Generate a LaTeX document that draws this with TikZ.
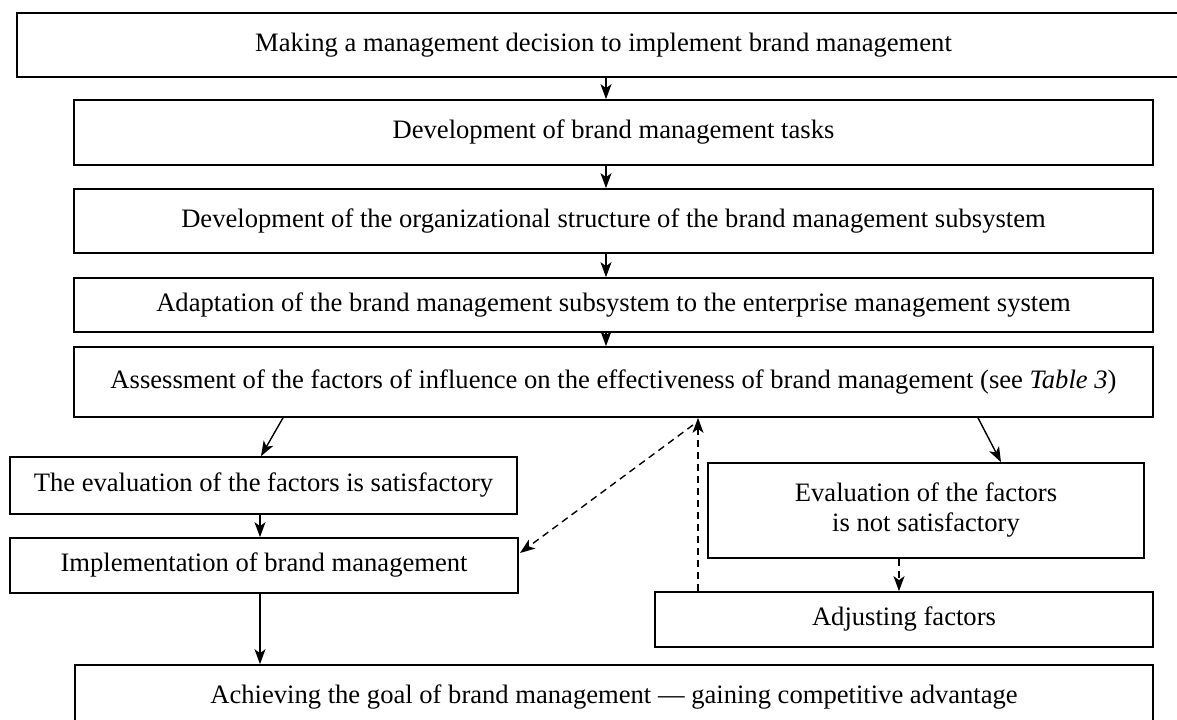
\documentclass[tikz,border=0pt]{standalone}
\usepackage{fontspec}
\setmainfont{Liberation Serif}
\usetikzlibrary{arrows.meta}
\begin{document}
\begin{tikzpicture}[x=1bp,y=-1bp,
  box/.style={draw, line width=1.7bp, inner sep=0pt, align=center,
    font=\fontsize{26.6bp}{30bp}\selectfont},
  arr/.style={line width=1.4bp, -{Stealth[length=15bp,width=11bp,inset=4bp]}},
  darr/.style={arr, dash pattern=on 7bp off 5bp}]
\useasboundingbox (0,0) rectangle (1177,720);

% main chain
\node[box, minimum width=1193bp, minimum height=64bp] (n1) at (613.5,45)
  {\hspace*{-20bp}Making a management decision to implement brand management};
\node[box, minimum width=1079bp, minimum height=65bp] (n2) at (613.5,132.5)
  {Development of brand management tasks};
\node[box, minimum width=1079bp, minimum height=64bp] (n3) at (613.5,221)
  {Development of the organizational structure of the brand management subsystem};
\node[box, minimum width=1079bp, minimum height=54bp] (n4) at (613.5,305)
  {Adaptation of the brand management subsystem to the enterprise management system};
\node[box, minimum width=1079bp, minimum height=70bp] (n5) at (613.5,382)
  {Assessment of the factors of influence on the effectiveness of brand management (see \textit{Table 3})};

% branches
\node[box, minimum width=507bp, minimum height=57bp] (sat) at (263.5,485.5)
  {The evaluation of the factors is satisfactory};
\node[box, minimum width=508bp, minimum height=55bp] (impl) at (264,565.5)
  {Implementation of brand management};
\node[box, minimum width=436bp, minimum height=95bp] (notsat) at (926,510.5)
  {Evaluation of the factors\\is not satisfactory};
\node[box, minimum width=498bp, minimum height=55bp] (adj) at (904,619.5)
  {Adjusting factors};
\node[box, minimum width=1078bp, minimum height=64bp] (goal) at (614,697)
  {Achieving the goal of brand management — gaining competitive advantage};

% connector columns
\coordinate (cm) at (606,0);
\coordinate (cl) at (260,0);
\coordinate (cla) at (283,0);
\coordinate (clb) at (261,0);
\coordinate (cra) at (978,0);
\coordinate (crb) at (1001,0);
\coordinate (cd) at (899,0);
\coordinate (cu) at (698,0);
\coordinate (fb) at (693,425);
\coordinate (fi) at (520,553);

\draw[arr] (n1.south -| cm) -- (n2.north -| cm);
\draw[arr] (n2.south -| cm) -- (n3.north -| cm);
\draw[arr] (n3.south -| cm) -- (n4.north -| cm);
\draw[arr] (n4.south -| cm) -- (n5.north -| cm);

\draw[arr] (n5.south -| cla) -- (sat.north -| clb);
\draw[arr] (n5.south -| cra) -- (notsat.north -| crb);
\draw[arr] (sat.south -| cl) -- (impl.north -| cl);
\draw[arr] (impl.south -| cl) -- (goal.north -| cl);

\draw[darr] (notsat.south -| cd) -- (adj.north -| cd);
\draw[darr] (adj.north -| cu) -- (n5.south -| cu);
\draw[darr] (fb) -- (fi);
\end{tikzpicture}
\end{document}
